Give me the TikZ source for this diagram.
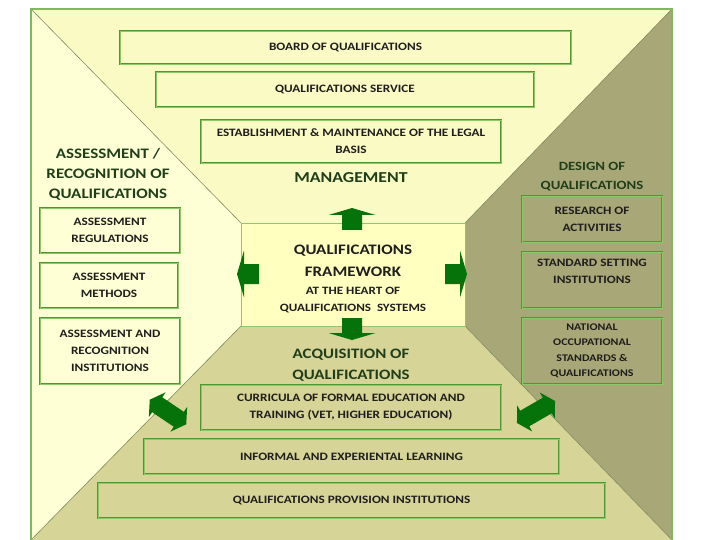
\documentclass[tikz,border=0pt]{standalone}
\usepackage{fontspec}
\setmainfont{Carlito}[FakeStretch=1.17]
\usepackage{tikz}

\definecolor{topyellow}{RGB}{250,250,196}
\definecolor{leftyellow}{RGB}{255,255,213}
\definecolor{centreyellow}{RGB}{255,255,192}
\definecolor{rightolive}{RGB}{168,167,120}
\definecolor{bottomkhaki}{RGB}{214,212,150}
\definecolor{framegreen}{RGB}{125,185,95}
\definecolor{edgegrey}{RGB}{125,140,95}
\definecolor{centreline}{RGB}{150,195,110}
\definecolor{boxgreen}{RGB}{80,150,50}
\definecolor{boxlight}{RGB}{140,200,100}
\definecolor{boxtext}{RGB}{30,30,28}
\definecolor{headgreen}{RGB}{32,62,26}
\definecolor{arrowgreen}{RGB}{5,115,10}

\newcommand\boxfont{\bfseries\fontsize{11.3}{17}\selectfont}
\newcommand\headfont{\bfseries\fontsize{14.5}{20}\selectfont}

\tikzset{
    box/.style={draw=boxgreen, line width=0.9pt, double=boxlight, double distance=0.8pt,
        align=center, inner sep=0pt, font=\boxfont, text=boxtext},
    head/.style={align=center, inner sep=0pt, text=headgreen, font=\headfont},
    region/.style={draw=edgegrey, line width=0.6pt},
    flatarrow/.pic={
        \fill[arrowgreen] (-10,11) -- (-10,-4) -- (-23.5,-4) -- (0,-11) -- (23.5,-4) -- (10,-4) -- (10,11) -- cycle;
    },
    twoarrow/.pic={
        \fill[arrowgreen] (-22,0) -- (-13,-15) -- (-13,-9) -- (13,-9) -- (13,-15) -- (22,0)
            -- (13,15) -- (13,9) -- (-13,9) -- (-13,15) -- cycle;
    },
}

\begin{document}
\begin{tikzpicture}[x=1pt, y=-1pt]
    \useasboundingbox (0,0) rectangle (720,540);

    % frame and the four sides
    \coordinate (tl) at (31,9);
    \coordinate (tr) at (672,9);
    \coordinate (br) at (672,540);
    \coordinate (bl) at (31,540);
    \coordinate (ctl) at (241,223);
    \coordinate (ctr) at (465,223);
    \coordinate (cbr) at (465,326);
    \coordinate (cbl) at (241,326);

    \fill[topyellow] (tl) -- (tr) -- (ctr) -- (ctl) -- cycle;
    \fill[leftyellow] (tl) -- (ctl) -- (cbl) -- (bl) -- cycle;
    \fill[rightolive] (tr) -- (br) -- (cbr) -- (ctr) -- cycle;
    \fill[bottomkhaki] (cbl) -- (cbr) -- (br) -- (bl) -- cycle;
    \draw[region] (tl) -- (ctl) (bl) -- (cbl) (tr) -- (ctr) (br) -- (cbr);
    \filldraw[fill=centreyellow, draw=centreline, line width=0.8pt] (ctl) rectangle (cbr);
    \draw[framegreen, line width=2pt] (bl) -- (tl) -- (tr) -- (br);

    % management
    \node[box, minimum width=451, minimum height=33] (board) at (345.5,47.5) {BOARD OF QUALIFICATIONS};
    \node[box, minimum width=378, minimum height=35] (service) at (345,89.5) {QUALIFICATIONS SERVICE};
    \node[box, minimum width=300, minimum height=43] (legal) at (351,141.5) {ESTABLISHMENT \& MAINTENANCE OF THE LEGAL\\ BASIS};
    \node[head, font=\bfseries\fontsize{15.2}{20}\selectfont] (mgmt) at (351,178) {MANAGEMENT};

    % assessment
    \node[head] (assess) at (108,174) {ASSESSMENT /\\ RECOGNITION OF\\ QUALIFICATIONS};
    \node[box, minimum width=140, minimum height=45] (regul) at (110,230.5) {ASSESSMENT\\ REGULATIONS};
    \node[box, minimum width=138, minimum height=45] (methods) at (109,285.5) {ASSESSMENT\\ METHODS};
    \node[box, minimum width=140, minimum height=66] (recog) at (110,351) {ASSESSMENT AND\\ RECOGNITION\\ INSTITUTIONS};

    % design
    \node[head, font=\bfseries\fontsize{12.6}{19}\selectfont] (design) at (592,176.5) {DESIGN OF\\ QUALIFICATIONS};
    \node[box, minimum width=140, minimum height=46] (research) at (592,219) {RESEARCH OF\\ ACTIVITIES};
    \node[box, minimum width=140, minimum height=56] (standard) at (592,280) {STANDARD SETTING\\ INSTITUTIONS\\ ~};
    \node[box, minimum width=140, minimum height=66, font=\bfseries\fontsize{10.2}{15.5}\selectfont] (national) at (592,351)
        {NATIONAL\\ OCCUPATIONAL\\ STANDARDS \&\\ QUALIFICATIONS};

    % centre
    \node[inner sep=0pt, align=center, text=boxtext, font=\bfseries\fontsize{14.5}{22}\selectfont] (qf) at (353,261)
        {QUALIFICATIONS\\ FRAMEWORK};
    \node[inner sep=0pt, align=center, text=boxtext, font=\bfseries\fontsize{11.2}{17}\selectfont] (qfsub) at (353,300.5)
        {AT THE HEART OF\\ QUALIFICATIONS\ \ SYSTEMS};
    \pic (up) at (352,219) {flatarrow};
    \pic[rotate=90] (left) at (248,274) {flatarrow};
    \pic[rotate=-90] (right) at (456,274) {flatarrow};
    \pic[rotate=180] (down) at (352,329) {flatarrow};

    % acquisition
    \node[head, font=\bfseries\fontsize{14.4}{21}\selectfont] (acq) at (351,365.5) {ACQUISITION OF\\ QUALIFICATIONS};
    \node[box, minimum width=300, minimum height=45] (curric) at (351,407.5) {CURRICULA OF FORMAL EDUCATION AND\\ TRAINING (VET, HIGHER EDUCATION)};
    \node[box, minimum width=415, minimum height=35] (informal) at (351.5,456.5) {INFORMAL AND EXPERIENTAL LEARNING};
    \node[box, minimum width=507, minimum height=35] (provision) at (351.5,500.5) {QUALIFICATIONS PROVISION INSTITUTIONS};
    \pic[rotate=-34] (lswap) at (168,412) {twoarrow};
    \pic[rotate=30] (rswap) at (536,412) {twoarrow};
\end{tikzpicture}
\end{document}
